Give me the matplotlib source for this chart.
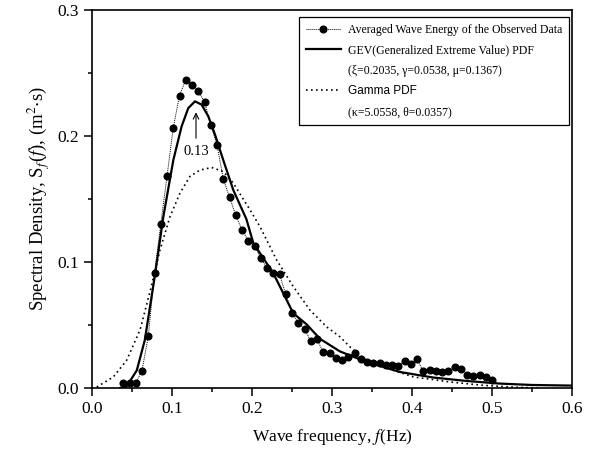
import matplotlib
matplotlib.use("Agg")
import matplotlib.pyplot as plt
from matplotlib.lines import Line2D
from matplotlib.ticker import MultipleLocator, FormatStrFormatter
import numpy as np

plt.rcParams['font.family'] = 'Liberation Serif'
plt.rcParams['mathtext.fontset'] = 'stix'

# observed spectrum, frequency bins of 1/128 Hz (k = 5 ... 64)
obs_k = np.arange(5, 65)
obs_S = [0.004, 0.004, 0.004, 0.0138, 0.0409, 0.091, 0.130, 0.168, 0.2066, 0.2321,
         0.2446, 0.2407, 0.2359, 0.227, 0.2087, 0.193, 0.166, 0.1515, 0.1371, 0.1255,
         0.117, 0.113, 0.1032, 0.095, 0.0915, 0.0902, 0.0743, 0.0597, 0.0517, 0.0467,
         0.0372, 0.0385, 0.0284, 0.0276, 0.0239, 0.0226, 0.025, 0.0278, 0.0234, 0.0207,
         0.0202, 0.0196, 0.0183, 0.018, 0.0178, 0.0212, 0.019, 0.0228, 0.0133, 0.0146,
         0.0138, 0.0127, 0.0138, 0.017, 0.0154, 0.0101, 0.0095, 0.0101, 0.0088, 0.0067]
obs_f = obs_k / 128.0

# GEV fit
gev_f = [0.035, 0.043, 0.056, 0.066, 0.079, 0.0892, 0.1017, 0.112, 0.1204, 0.1288,
         0.137, 0.1454, 0.1538, 0.164, 0.1767, 0.193, 0.2017, 0.2267, 0.2433, 0.2517,
         0.2683, 0.285, 0.31, 0.343, 0.385, 0.4267, 0.468, 0.51, 0.55, 0.6]
gev_S = [0.0, 0.001, 0.014, 0.038, 0.091, 0.136, 0.181, 0.2076, 0.2222, 0.2275,
         0.2249, 0.2156, 0.201, 0.181, 0.157, 0.134, 0.1149, 0.091, 0.0698, 0.0592,
         0.0505, 0.039, 0.029, 0.0207, 0.0127, 0.0083, 0.0056, 0.0035, 0.0024, 0.0019]

# Gamma fit
gam_f = [0.006, 0.0267, 0.0433, 0.06, 0.0733, 0.085, 0.0975, 0.11, 0.1225, 0.135,
         0.1496, 0.164, 0.1767, 0.187, 0.1975, 0.21, 0.2308, 0.2517, 0.2725, 0.2933,
         0.31, 0.3225, 0.343, 0.3767, 0.4017, 0.4475, 0.489, 0.53, 0.56]
gam_S = [0.0008, 0.0088, 0.022, 0.046, 0.0784, 0.1095, 0.136, 0.1547, 0.168, 0.173,
         0.175, 0.1718, 0.1626, 0.152, 0.1414, 0.128, 0.1016, 0.0804, 0.0618, 0.0485,
         0.0406, 0.0326, 0.022, 0.0141, 0.0088, 0.0048, 0.0021, 0.0006, 0.0]

fig = plt.figure(figsize=(5.94, 4.54), dpi=100)
ax = fig.add_axes([92/594, 1-388/454, 480/594, 378/454])

ax.plot(obs_f, obs_S, color='k', ls=(0, (1, 1)), lw=0.7, marker='o', ms=4.8)
ax.plot(gev_f, gev_S, color='k', lw=1.6)
ax.plot(gam_f, gam_S, color='k', ls=(0, (1, 2)), lw=1.2)

ax.annotate('', xy=(0.13, 0.221), xytext=(0.13, 0.196),
            arrowprops=dict(arrowstyle='->', color='k', lw=0.8))
ax.text(0.13, 0.193, '0.13', ha='center', va='top', fontsize=10.5)

ax.set_xlim(0, 0.6)
ax.set_ylim(0, 0.3)
ax.xaxis.set_major_locator(MultipleLocator(0.1))
ax.xaxis.set_minor_locator(MultipleLocator(0.05))
ax.yaxis.set_major_locator(MultipleLocator(0.1))
ax.yaxis.set_minor_locator(MultipleLocator(0.05))
ax.xaxis.set_major_formatter(FormatStrFormatter('%.1f'))
ax.yaxis.set_major_formatter(FormatStrFormatter('%.1f'))
ax.tick_params(which='major', direction='out', length=6, width=1.1, labelsize=12.5)
ax.tick_params(which='minor', direction='out', length=3, width=1.1)
for s in ax.spines.values():
    s.set_linewidth(1.2)

ax.set_xlabel('Wave frequency, $f$(Hz)', fontsize=12.5, labelpad=7)
ax.set_ylabel(r'Spectral Density, S$_f$($f$), (m$^2$$\cdot$s)', fontsize=13.5, labelpad=4)

handles = [Line2D([], [], color='k', ls=(0, (1, 1)), lw=0.7, marker='o', ms=4.8),
           Line2D([], [], color='k', lw=1.6),
           Line2D([], [], color='none'),
           Line2D([], [], color='k', ls=(0, (1, 2)), lw=1.2),
           Line2D([], [], color='none')]
labels = ['Averaged Wave Energy of the Observed Data',
          'GEV(Generalized Extreme Value) PDF',
          '(\u03be=0.2035, \u03b3=0.0538, \u03bc=0.1367)',
          'Gamma PDF',
          '(\u03ba=5.0558, \u03b8=0.0357)']
leg = ax.legend(handles, labels, loc='upper right', bbox_to_anchor=(0.994, 0.982),
                borderaxespad=0, fontsize=8.5, handlelength=3.0, handletextpad=0.55,
                labelspacing=0.72, borderpad=0.6, fancybox=False, edgecolor='k',
                framealpha=1)
leg.get_frame().set_linewidth(0.9)
leg.get_texts()[3].set_fontfamily('Liberation Sans')

fig.savefig('out.png', dpi=100)
